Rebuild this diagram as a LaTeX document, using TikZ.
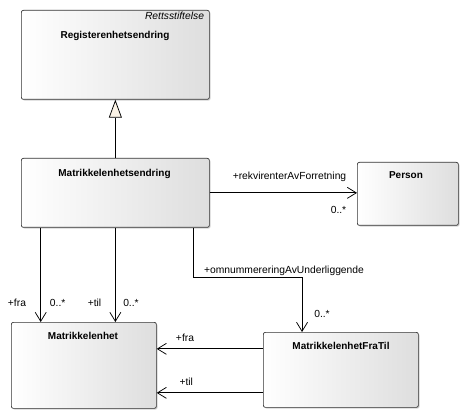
\documentclass[tikz,border=0pt]{standalone}
\usepackage{fontspec}
\setmainfont{Liberation Sans}
\usetikzlibrary{arrows.meta,shadows,calc}
\definecolor{gencream}{HTML}{FBF3E6}
\begin{document}
\begin{tikzpicture}[x=1pt,y=-1pt,
  cls/.style={draw=black!80, line width=0.7pt, rounded corners=2pt, left color=white, right color=black!13,
    drop shadow={shadow xshift=1.2pt, shadow yshift=-1.2pt, opacity=0.35}, anchor=north west, inner sep=0pt},
  ttl/.style={font=\fontsize{10}{12}\selectfont\bfseries, inner sep=0pt, text height=0.72em, text depth=0.2em},
  lbl/.style={font=\fontsize{10.3}{12}\selectfont, inner sep=0pt, text height=0.72em, text depth=0.2em},
  stereo/.style={font=\fontsize{10.3}{12}\selectfont\itshape, inner sep=0pt, text height=0.72em, text depth=0.2em},
  conn/.style={line width=0.75pt},
  assoc/.style={conn, -{Straight Barb[length=9pt,width=11pt,line width=0.75pt]}},
  gen/.style={conn, -{Triangle[open,length=18pt,width=13pt,fill=gencream,line width=0.75pt]}}
]
\useasboundingbox (0,0) rectangle (468,419);

% classes
\node[cls, minimum width=188pt, minimum height=89pt] (reg) at (21,10) {};
\node[stereo] (regS) at (174.5,17) {Rettsstiftelse};
\node[ttl] (regT) at (115,36) {Registerenhetsendring};

\node[cls, minimum width=188pt, minimum height=69pt] (me) at (21,158) {};
\node[ttl] (meT) at (114.5,174) {Matrikkelenhetsendring};

\node[cls, minimum width=101pt, minimum height=63pt] (per) at (357,162) {};
\node[ttl] (perT) at (406,176) {Person};

\node[cls, minimum width=145pt, minimum height=86pt] (mat) at (11,322) {};
\node[ttl] (matT) at (83,337) {Matrikkelenhet};

\node[cls, minimum width=155pt, minimum height=75pt] (fra) at (263,332) {};
\node[ttl] (fraT) at (341,347) {MatrikkelenhetFraTil};

% connectors
\draw[gen] (me.north) -- (reg.south);
\draw[assoc] (me.east) -- (me.east -| per.west);
\draw[assoc] ([xshift=19.7pt]me.south west) -- ([xshift=19.7pt]me.south west |- mat.north);
\draw[assoc] (me.south) -- (me.south |- mat.north);
\draw[assoc] ([xshift=-16pt]me.south east) -- ++(0,50) -| ([xshift=-38.8pt]fra.north);
\draw[assoc] ([yshift=21pt]fra.west) -- ([yshift=21pt]fra.west -| mat.east);
\draw[assoc] ([yshift=-23pt]fra.west) -- ([yshift=-23pt]fra.west -| mat.east);

% labels
\node[lbl] (l1) at (289.5,177) {+rekvirenterAvForretning};
\node[lbl] (l2) at (338.5,211) {0..*};
\node[lbl] (l3) at (284,271) {+omnummereringAvUnderliggende};
\node[lbl] (l4) at (322,315) {0..*};
\node[lbl] (l5) at (17,304) {+fra};
\node[lbl] (l6) at (57.7,304) {0..*};
\node[lbl] (l7) at (94.5,304) {+til};
\node[lbl] (l8) at (131,304) {0..*};
\node[lbl] (l9) at (185,339) {+fra};
\node[lbl] (l10) at (186.3,383) {+til};
\end{tikzpicture}
\end{document}
